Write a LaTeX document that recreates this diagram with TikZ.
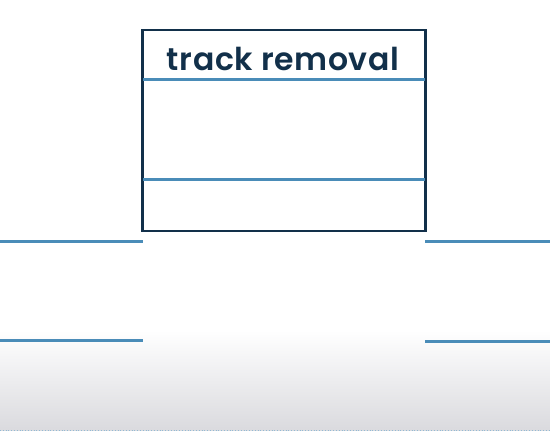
\documentclass[tikz,border=0pt]{standalone}
\usepackage{fontspec}
\setmainfont{Poppins}[BoldFont={Poppins SemiBold}]
\usetikzlibrary{calc}
\definecolor{navy}{HTML}{12304A}
\definecolor{lineblue}{HTML}{4A8CB8}
\definecolor{floorgray}{HTML}{DADADE}
\tikzset{
  frame/.style={draw=navy, line width=1.8pt, minimum width=282pt, minimum height=200pt, inner sep=0pt, fill=white},
  divider/.style={draw=lineblue, line width=2.8pt},
  rail/.style={draw=lineblue, line width=3pt},
  titletext/.style={text=navy, font=\fontsize{31.5}{38}\selectfont\bfseries\addfontfeatures{LetterSpace=2}, inner sep=0pt}
}
\begin{document}
\begin{tikzpicture}[x=1pt,y=1pt]
\useasboundingbox (0,0) rectangle (550,431);
\fill[white] (0,0) rectangle (550,431);
\shade[top color=white, bottom color=floorgray] (0,0) rectangle (550,101);
\draw[lineblue!60, line width=0.8pt, dotted] (0,1) -- (550,1);
\node[frame] (box) at (284,300.5) {};
\node[titletext, anchor=base] (title) at (283,360) {track removal};
\coordinate (d1l) at ($(box.north west)+(0,-50)$);
\coordinate (d1r) at ($(box.north east)+(0,-50)$);
\coordinate (d2l) at ($(box.north west)+(0,-150)$);
\coordinate (d2r) at ($(box.north east)+(0,-150)$);
\draw[divider] (d1l) -- (d1r);
\draw[divider] (d2l) -- (d2r);
\draw[navy, line width=1.8pt] (box.north west) rectangle (box.south east);
\coordinate (r1a) at (0,189);
\coordinate (r1b) at (143,189);
\coordinate (r1c) at (425,189);
\coordinate (r1d) at (550,189);
\coordinate (r2a) at (0,90);
\coordinate (r2b) at (143,90);
\coordinate (r2c) at (425,89);
\coordinate (r2d) at (550,89);
\draw[rail] (r1a) -- (r1b);
\draw[rail] (r1c) -- (r1d);
\draw[rail] (r2a) -- (r2b);
\draw[rail] (r2c) -- (r2d);
\end{tikzpicture}
\end{document}
